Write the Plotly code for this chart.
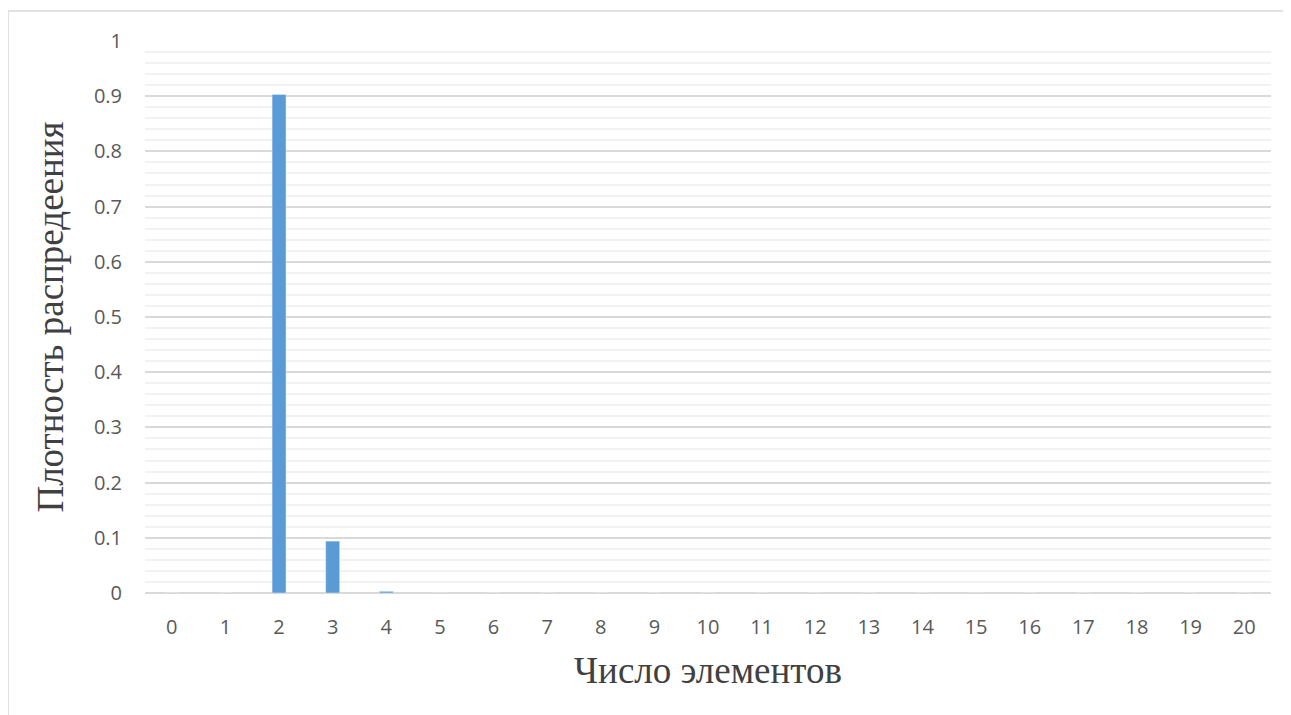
import plotly.graph_objects as go

categories = [str(i) for i in range(21)]
density = [0, 0, 0.903, 0.094, 0.003] + [0] * 16
x_title = "Число элементов"
y_title = "Плотность распредеения"
y_ticks = [0, 0.1, 0.2, 0.3, 0.4, 0.5, 0.6, 0.7, 0.8, 0.9, 1]
y_tick_text = ["0", "0.1", "0.2", "0.3", "0.4", "0.5", "0.6", "0.7", "0.8", "0.9", "1"]

fig = go.Figure(go.Bar(x=categories, y=density, marker_color="#5b9bd5", width=0.26))

# page body has an 8px margin; positions below are internal to the figure
OFF = 8
W, H = 1291, 715
L, R, T, B = 145 - OFF, 20 + OFF, 41 - OFF, 122 + OFF
pw, ph = W - L - R, H - T - B

def px_x(p):
    return (p - OFF - L) / pw

def px_y(p):
    return (H - B - (p - OFF)) / ph

fig.update_layout(
    width=W, height=H,
    margin=dict(l=L, r=R, t=T, b=B),
    paper_bgcolor="white", plot_bgcolor="white",
    showlegend=False,
    xaxis=dict(
        type="category", range=[-0.5, 20.5], showgrid=False,
        showline=False, ticks="", ticklabelstandoff=20,
        tickfont=dict(family="Open Sans", size=20, color="#595959"),
        title=dict(text=x_title, font=dict(family="Liberation Serif", size=37, color="#404040"), standoff=18),
    ),
    yaxis=dict(
        range=[0, 1.0], tickvals=y_ticks, ticktext=y_tick_text,
        showgrid=True, gridcolor="#d9d9d9", gridwidth=1.5,
        minor=dict(dtick=0.02, showgrid=True, gridcolor="#f2f2f2", gridwidth=1.5),
        zeroline=True, zerolinecolor="#d9d9d9", zerolinewidth=1.5,
        ticks="", ticklabelstandoff=22,
        tickfont=dict(family="Open Sans", size=20, color="#595959"),
        title=dict(text=y_title, font=dict(family="Liberation Serif", size=37, color="#404040"), standoff=18),
    ),
    shapes=[dict(type="rect", xref="paper", yref="paper",
                 x0=px_x(8), x1=px_x(1287), y0=px_y(720), y1=px_y(11),
                 line=dict(color="#d9d9d9", width=1.5), layer="below")],
)

fig.write_html("out.html")
